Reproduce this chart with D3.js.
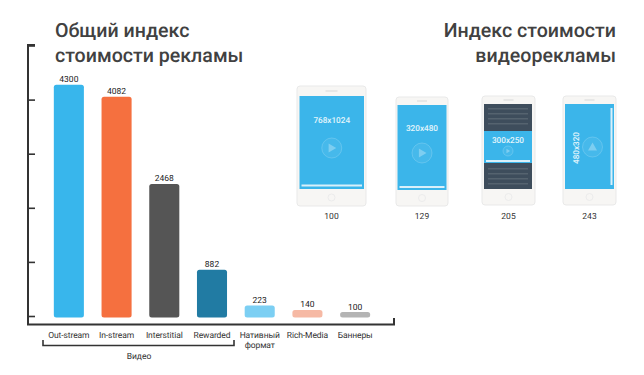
<!DOCTYPE html>
<html lang="ru">
<head>
<meta charset="utf-8">
<script src="https://cdn.jsdelivr.net/npm/d3@7"></script>
<style>
    html, body { margin: 0; padding: 0; background: #fff; }
    svg { display: block; font-family: Roboto, sans-serif; text-rendering: geometricPrecision; }
</style>
</head>
<body>
<div id="chart"></div>
<script>
// ==========================
// Data
// ==========================
const categories = ["Out-stream", "In-stream", "Interstitial", "Rewarded", "Нативный формат", "Rich-Media", "Баннеры"];
const costIndex = [4300, 4082, 2468, 882, 223, 140, 100];
const barColors = ["#38b6ec", "#f5703f", "#555555", "#217ba3", "#7ccff3", "#f6b9a4", "#b4b4b4"];
const yTicks = [0, 1000, 2000, 3000, 4000, 5000];

const videoSizes = ["768x1024", "320x480", "300x250", "480x320"];
const videoIndex = [100, 129, 205, 243];

// ==========================
// Dimensions
// ==========================
const width = 644;
const height = 375;
const baseY = 317.5;
const pxPerUnit = 0.0541;

const dark = "#333333";
const titleColor = "#414141";
const screenBlue = "#3bb5ea";

// phone outlines, same order as videoSizes
const phones = [
    { x: 297, y: 86, w: 69, h: 120, sx: 299.5, sy: 96, sw: 64.5, sh: 93, textY: 123, cy: 148, r: 10, barY: 184.5, speaker: 12 },
    { x: 396, y: 97, w: 52, h: 109, sx: 397.5, sy: 105, sw: 49, sh: 85, textY: 131, cy: 153, r: 10, barY: 186, speaker: 10 },
    { x: 482, y: 96, w: 53, h: 109, sx: 484, sy: 104, sw: 48, sh: 85, textY: 143, cy: 151, r: 5, barY: 160, speaker: 10, banner: { y: 131, h: 32 } },
    { x: 563, y: 96, w: 53, h: 109, sx: 565, sy: 104, sw: 49, sh: 85, textY: 0, cy: 147, r: 10, barY: 0, speaker: 10, rotated: true }
];

// ==========================
// SVG Canvas
// ==========================
const svg = d3.select("#chart")
    .append("svg")
    .attr("width", width)
    .attr("height", height);

// ==========================
// Scales
// ==========================
const x = d3.scaleBand()
    .domain(categories)
    .range([45, 379])
    .paddingInner(0.37)
    .paddingOuter(0.185);

const y = d3.scaleLinear()
    .domain([0, 5000])
    .range([baseY, baseY - 5000 * pxPerUnit]);

// ==========================
// Titles
// ==========================
function drawTitle(lines, tx, anchor) {
    lines.forEach((line, i) => {
        svg.append("text")
            .attr("x", tx)
            .attr("y", 37 + i * 24.5)
            .attr("text-anchor", anchor)
            .attr("font-size", 19.6)
            .attr("font-weight", 500)
            .attr("fill", titleColor)
            .text(line);
    });
}

drawTitle(["Общий индекс", "стоимости рекламы"], 55, "start");
drawTitle(["Индекс стоимости", "видеорекламы"], 616, "end");

// ==========================
// Axes
// ==========================
const yAxis = d3.axisRight(y)
    .tickValues(yTicks)
    .tickSize(7)
    .tickFormat("");

const yAxisG = svg.append("g")
    .attr("transform", "translate(28, -1.5)")
    .call(yAxis);
yAxisG.select(".domain").remove();
yAxisG.selectAll("line").attr("stroke", dark).attr("stroke-width", 1.6);

// axis frame: left spine, bottom line, small end tick
svg.append("path")
    .attr("d", "M35,45 H28 V324.5 H394 V318")
    .attr("fill", "none")
    .attr("stroke", dark)
    .attr("stroke-width", 2);

// ==========================
// Bars
// ==========================
const bars = categories.map((c, i) => ({ name: c, value: costIndex[i], color: barColors[i] }));

svg.selectAll(".bar")
    .data(bars)
    .enter()
    .append("rect")
    .attr("class", "bar")
    .attr("x", d => x(d.name))
    .attr("y", d => y(d.value))
    .attr("width", x.bandwidth())
    .attr("height", d => y(0) - y(d.value))
    .attr("rx", 2.5)
    .attr("fill", d => d.color);

svg.selectAll(".bar-value")
    .data(bars)
    .enter()
    .append("text")
    .attr("class", "bar-value")
    .attr("x", d => x(d.name) + x.bandwidth() / 2)
    .attr("y", d => y(d.value) - 2.5)
    .attr("text-anchor", "middle")
    .attr("font-size", 8.5)
    .attr("fill", "#222")
    .text(d => d.value);

// Category labels, the long one wraps
svg.selectAll(".bar-label")
    .data(bars)
    .enter()
    .append("text")
    .attr("class", "bar-label")
    .attr("text-anchor", "middle")
    .attr("font-size", 8.5)
    .attr("letter-spacing", -0.1)
    .attr("fill", "#333")
    .each(function(d) {
        const cx = x(d.name) + x.bandwidth() / 2;
        d.name.split(" ").forEach((word, i) => {
            d3.select(this).append("tspan")
                .attr("x", cx)
                .attr("y", 338 + i * 10)
                .text(word);
        });
    });

// Video bracket
svg.append("path")
    .attr("d", "M43,340 V345.5 H234 V340")
    .attr("fill", "none")
    .attr("stroke", dark)
    .attr("stroke-width", 1.6);

svg.append("text")
    .attr("x", 139)
    .attr("y", 359)
    .attr("text-anchor", "middle")
    .attr("font-size", 8.5)
    .attr("fill", "#333")
    .text("Видео");

// ==========================
// Phones
// ==========================
function drawPhone(p, i) {
    const g = svg.append("g");
    const cx = p.sx + p.sw / 2;

    // Body
    g.append("rect")
        .attr("x", p.x)
        .attr("y", p.y)
        .attr("width", p.w)
        .attr("height", p.h)
        .attr("rx", 3)
        .attr("fill", "#f7f6f4")
        .attr("stroke", "#e9e9e9");

    // Speaker and home button
    g.append("rect")
        .attr("x", p.x + p.w / 2 - p.speaker / 2)
        .attr("y", (p.y + p.sy) / 2 - 0.5)
        .attr("width", p.speaker)
        .attr("height", 1)
        .attr("fill", "#d8d8d8");
    g.append("circle")
        .attr("cx", p.x + p.w / 2)
        .attr("cy", (p.sy + p.sh + p.y + p.h) / 2)
        .attr("r", 3.5)
        .attr("fill", "none")
        .attr("stroke", "#ececec");

    // Screen
    g.append("rect")
        .attr("x", p.sx)
        .attr("y", p.sy)
        .attr("width", p.sw)
        .attr("height", p.sh)
        .attr("fill", p.banner ? "#3e4d5c" : screenBlue);

    if (p.banner) {
        // Fake text lines around the banner
        d3.range(p.sy + 4, p.sy + p.sh - 2, 5).forEach(ly => {
            if (ly > p.banner.y - 4 && ly < p.banner.y + p.banner.h + 2) return;
            g.append("rect")
                .attr("x", p.sx + 4)
                .attr("y", ly)
                .attr("width", p.sw - 8)
                .attr("height", 1.5)
                .attr("fill", "#55636f");
        });
        g.append("rect")
            .attr("x", p.sx)
            .attr("y", p.banner.y)
            .attr("width", p.sw)
            .attr("height", p.banner.h)
            .attr("fill", screenBlue);
    }

    // Progress bar or scroll bar
    if (p.rotated) {
        g.append("rect")
            .attr("x", p.sx + p.sw - 3.5)
            .attr("y", p.sy + 4)
            .attr("width", 2)
            .attr("height", p.sh - 8)
            .attr("fill", "#d9f0fa");
    } else {
        g.append("rect")
            .attr("x", p.sx + 2)
            .attr("y", p.barY)
            .attr("width", p.sw - 4)
            .attr("height", 2)
            .attr("fill", "#d9f0fa");
    }

    // Play button
    const px = p.rotated ? cx + 3 : cx;
    g.append("circle")
        .attr("cx", px)
        .attr("cy", p.cy)
        .attr("r", p.r)
        .attr("fill", "#ffffff")
        .attr("fill-opacity", 0.06)
        .attr("stroke", "#ffffff")
        .attr("stroke-opacity", 0.18);

    const t = p.r * 0.45;
    const tri = p.rotated
        ? `M${px},${p.cy - t} L${px + t},${p.cy + t * 0.8} L${px - t},${p.cy + t * 0.8} Z`
        : `M${px - t * 0.7},${p.cy - t} L${px + t},${p.cy} L${px - t * 0.7},${p.cy + t} Z`;
    g.append("path")
        .attr("d", tri)
        .attr("fill", "#ffffff")
        .attr("fill-opacity", 0.3);

    // Size label
    const sizeLabel = g.append("text")
        .attr("text-anchor", "middle")
        .attr("font-size", 8.2)
        .attr("font-weight", 500)
        .attr("fill", "#e4f5fc")
        .text(videoSizes[i]);
    if (p.rotated) {
        sizeLabel.attr("transform", `translate(${p.sx + 14}, ${p.cy + 1}) rotate(-90)`);
    } else {
        sizeLabel.attr("x", cx).attr("y", p.textY);
    }

    // Index under the phone
    g.append("text")
        .attr("x", p.x + p.w / 2)
        .attr("y", 219)
        .attr("text-anchor", "middle")
        .attr("font-size", 8.5)
        .attr("fill", "#333")
        .text(videoIndex[i]);
}

phones.forEach(drawPhone);
</script>
</body>
</html>
